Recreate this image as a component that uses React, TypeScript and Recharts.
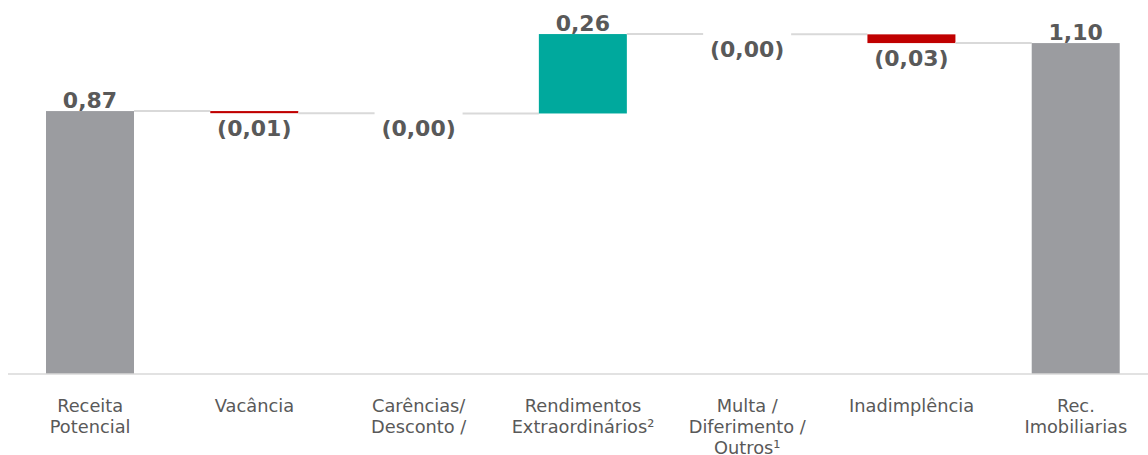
import React from 'react';
import { BarChart, Bar, XAxis, YAxis } from 'recharts';

// valores (R$/cota)
const categories = [
  'Receita Potencial',
  'Vacância',
  'Carências/ Desconto /',
  'Rendimentos Extraordinários²',
  'Multa / Diferimento / Outros¹',
  'Inadimplência',
  'Rec. Imobiliarias',
];
const tickLines = [
  ['Receita', 'Potencial'],
  ['Vacância'],
  ['Carências/', 'Desconto /'],
  ['Rendimentos', 'Extraordinários²'],
  ['Multa /', 'Diferimento /', 'Outros¹'],
  ['Inadimplência'],
  ['Rec.', 'Imobiliarias'],
];
const values = [0.874, -0.007, -0.001, 0.264, -0.001, -0.029, 1.1];
const isTotal = [true, false, false, false, false, false, true];

const CHART_W = 1158;
const CHART_H = 455;
const LEFT = 8;
const BAR_SIZE = 88;
const BAND = (CHART_W - LEFT) / categories.length;

const TOTAL_COLOR = '#9b9ca0';
const UP_COLOR = '#00a99d';
const DOWN_COLOR = '#c00000';
const LINK_COLOR = '#d9d9d9';
const TEXT_COLOR = '#595959';
const FONT = '"DejaVu Sans", Verdana, sans-serif';

type Row = {
  name: string;
  value: number;
  total: boolean;
  range: [number, number];
};

const data: Row[] = (() => {
  let level = 0;
  return categories.map((name, i) => {
    const v = values[i];
    let range: [number, number];
    if (isTotal[i]) {
      range = [0, v];
      level = v;
    } else {
      const next = level + v;
      range = [Math.min(level, next), Math.max(level, next)];
      level = next;
    }
    return { name, value: v, total: isTotal[i], range };
  });
})();

const fmt = (v: number) => {
  const s = Math.abs(v).toFixed(2).replace('.', ',');
  return v < 0 ? `(${s})` : s;
};

const WaterfallBar = (props: any) => {
  const { x, y, width, height, payload, index } = props;
  const row = payload as Row;
  const neg = row.value < 0;
  const fill = row.total ? TOTAL_COLOR : neg ? DOWN_COLOR : UP_COLOR;
  const endY = neg ? y + height : y;
  const cx = x + width / 2;
  const gap = BAND - BAR_SIZE;
  return (
    <g>
      {height >= 1 && <rect x={x} y={y} width={width} height={height} fill={fill} />}
      {index < data.length - 1 && (
        <line x1={x + width} x2={x + width + gap} y1={endY} y2={endY} stroke={LINK_COLOR} strokeWidth={2} />
      )}
      <text
        x={cx}
        y={neg ? y + height + 23 : y - 3}
        textAnchor="middle"
        fontFamily={FONT}
        fontSize={22}
        fontWeight="bold"
        fill={TEXT_COLOR}
      >
        {fmt(row.value)}
      </text>
    </g>
  );
};

const CategoryTick = (props: any) => {
  const { x, y, payload } = props;
  const lines = tickLines[payload.index] || [payload.value];
  return (
    <text x={x} y={y} textAnchor="middle" fontFamily={FONT} fontSize={17.8} fill={TEXT_COLOR}>
      {lines.map((l, i) => (
        <tspan key={i} x={x} dy={i === 0 ? 37.7 : 21}>
          {l}
        </tspan>
      ))}
    </text>
  );
};

export default function App() {
  return (
    <div style={{ width: 1148, height: CHART_H, overflow: 'hidden', background: 'white' }}>
      <style>{'body { margin: 0; }'}</style>
      <BarChart
        width={CHART_W}
        height={CHART_H}
        data={data}
        margin={{ top: 13, right: 0, bottom: 0, left: LEFT }}
        barSize={BAR_SIZE}
      >
        <XAxis
          dataKey="name"
          interval={0}
          height={81}
          tickLine={false}
          tickSize={0}
          tickMargin={0}
          axisLine={{ stroke: LINK_COLOR, strokeWidth: 1.5 }}
          tick={<CategoryTick />}
        />
        <YAxis hide domain={[0, 1.2]} />
        <Bar dataKey="range" shape={<WaterfallBar />} isAnimationActive={false} />
      </BarChart>
    </div>
  );
}
